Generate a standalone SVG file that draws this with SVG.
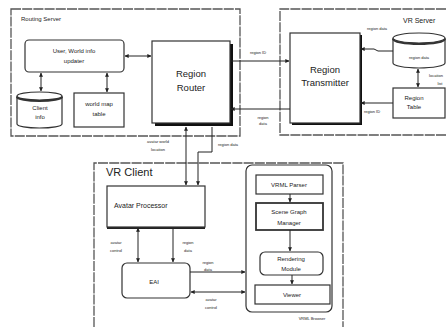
<svg xmlns="http://www.w3.org/2000/svg" width="446" height="327" viewBox="0 0 446 327">
<defs>
<marker id="ah" viewBox="0 0 6 6" refX="5.5" refY="3" markerWidth="4" markerHeight="4" orient="auto-start-reverse">
<path d="M0,0 L6,3 L0,6 z" fill="#222"/>
</marker>
<style>
.b{fill:#fff;stroke:#333;stroke-width:1.2}
.g{fill:none;stroke:#555;stroke-width:1.3;stroke-dasharray:10 1.2}
.c{fill:none;stroke:#222;stroke-width:1;marker-end:url(#ah)}
.d{fill:none;stroke:#222;stroke-width:1;marker-end:url(#ah);marker-start:url(#ah)}
.l{fill:none;stroke:#222;stroke-width:1}
text{font-family:"Liberation Sans",Arial,sans-serif;fill:#222}
.t{font-size:9.5px;text-anchor:middle}
.s{font-size:6px;text-anchor:middle}
.x{font-size:4px;text-anchor:middle}
</style>
</defs>
<rect width="446" height="327" fill="#fff"/>

<g id="routing-server">
<rect class="g" x="11" y="9" width="229" height="127"/>
<text x="21" y="21" style="font-size:6px">Routing Server</text>
</g>
<g id="vr-server">
<path class="g" d="M446,9 H280 V135 H446"/>
<text x="403" y="23" style="font-size:7px">VR Server</text>
</g>
<g id="vr-client">
<path class="g" d="M94,327 V163 H343 V327"/>
<text x="106" y="176" style="font-size:11px">VR Client</text>
</g>

<g id="updater">
<rect class="b" x="25" y="40" width="99" height="32" rx="4"/>
<text class="s" x="74" y="53">User, World info</text>
<text class="s" x="74" y="63">updater</text>
</g>
<g id="client-info">
<path class="b" d="M17,96 V124 A22.5,4 0 0 0 62,124 V96"/>
<ellipse class="b" cx="39.5" cy="96" rx="22.5" ry="4"/>
<path d="M17,97 A22.5,4 0 0 0 62,97" fill="none" stroke="#333" stroke-width="2"/>
<text class="s" x="40" y="110">Client</text>
<text class="s" x="40" y="119">info</text>
</g>
<g id="world-map">
<rect class="b" x="74" y="93" width="50" height="34"/>
<text class="s" x="99" y="106">world map</text>
<text class="s" x="99" y="116">table</text>
</g>
<g id="region-router">
<rect x="155" y="44" width="78" height="82" fill="#111"/>
<rect class="b" x="152" y="41" width="78" height="82"/>
<text class="t" x="191" y="77">Region</text>
<text class="t" x="191" y="91">Router</text>
</g>
<g id="region-transmitter">
<rect x="292" y="35" width="70" height="90" fill="#111"/>
<rect class="b" x="290" y="33" width="70" height="90"/>
<text class="t" x="325" y="73">Region</text>
<text class="t" x="325" y="86">Transmitter</text>
</g>
<g id="region-data-db">
<path class="b" d="M393,38 V63 A26,5 0 0 0 445,63 V38"/>
<ellipse class="b" cx="419" cy="38" rx="26" ry="5"/>
<path d="M393,39 A26,5 0 0 0 445,39" fill="none" stroke="#333" stroke-width="2"/>
<text class="x" x="419" y="59">region data</text>
</g>
<g id="region-table">
<rect class="b" x="393" y="88" width="52" height="30"/>
<text class="s" x="414" y="100">Region</text>
<text class="s" x="414" y="109">Table</text>
</g>
<g id="avatar-processor">
<rect x="107" y="188" width="98" height="41" fill="#222"/>
<rect class="b" x="107" y="186" width="98" height="41"/>
<text x="114" y="208" style="font-size:7px">Avatar Processor</text>
</g>
<g id="eai">
<rect class="b" x="122" y="263" width="68" height="35" rx="5"/>
<text class="s" x="154" y="284">EAI</text>
</g>
<g id="vrml-browser">
<rect class="b" x="246" y="165" width="86" height="147" rx="6"/>
<text class="x" x="312" y="320">VRML Browser</text>
</g>
<g id="vrml-parser">
<rect class="b" x="256" y="175" width="67" height="19"/>
<text class="s" x="289" y="187">VRML Parser</text>
</g>
<g id="scene-graph">
<rect class="b" x="256" y="203" width="67" height="27" style="stroke-width:1.8"/>
<text class="s" x="289" y="214">Scene Graph</text>
<text class="s" x="289" y="225">Manager</text>
</g>
<g id="rendering">
<rect class="b" x="260" y="252" width="63" height="23" rx="5"/>
<text class="s" x="291" y="261">Rendering</text>
<text class="s" x="291" y="271">Module</text>
</g>
<g id="viewer">
<rect class="b" x="255" y="285" width="75" height="19"/>
<text class="s" x="292" y="297">Viewer</text>
</g>

<g id="connectors">
<line class="d" x1="41" y1="73" x2="41" y2="91"/>
<line class="d" x1="107" y1="73" x2="107" y2="92"/>
<line class="d" x1="125" y1="56" x2="151" y2="56"/>
<line class="c" x1="231" y1="61" x2="289" y2="61"/>
<line class="c" x1="290" y1="109" x2="231" y2="109"/>
<path class="c" d="M393,51 H378 L374,49 H361"/>
<line class="c" x1="393" y1="103" x2="361" y2="103"/>
<line class="d" x1="418" y1="69" x2="418" y2="87"/>
<line class="d" x1="186" y1="127" x2="186" y2="185"/>
<path class="c" d="M212,127 V152 H198 V185"/>
<line class="d" x1="138" y1="228" x2="138" y2="262"/>
<line class="c" x1="173" y1="228" x2="173" y2="262"/>
<line class="c" x1="190" y1="272" x2="245" y2="272"/>
<line class="d" x1="191" y1="292" x2="245" y2="292"/>
<line class="c" x1="290" y1="194" x2="290" y2="202"/>
<line class="c" x1="290" y1="230" x2="290" y2="251"/>
<line class="c" x1="292" y1="275" x2="292" y2="284"/>
<text class="x" x="258" y="54">region ID</text>
<text class="x" x="263" y="119">region</text>
<text class="x" x="263" y="125">data</text>
<text class="x" x="377" y="30">region data</text>
<text class="x" x="372" y="113">region ID</text>
<text class="x" x="436" y="77">location</text>
<text class="x" x="440" y="85">list</text>
<text class="x" x="158" y="143">avatar world</text>
<text class="x" x="158" y="151">location</text>
<text class="x" x="228" y="146">region data</text>
<text class="x" x="116" y="244">avatar</text>
<text class="x" x="116" y="252">control</text>
<text class="x" x="188" y="244">region</text>
<text class="x" x="188" y="252">data</text>
<text class="x" x="208" y="264">region</text>
<text class="x" x="208" y="271">data</text>
<text class="x" x="211" y="301">avatar</text>
<text class="x" x="211" y="309">control</text>
</g>
</svg>
